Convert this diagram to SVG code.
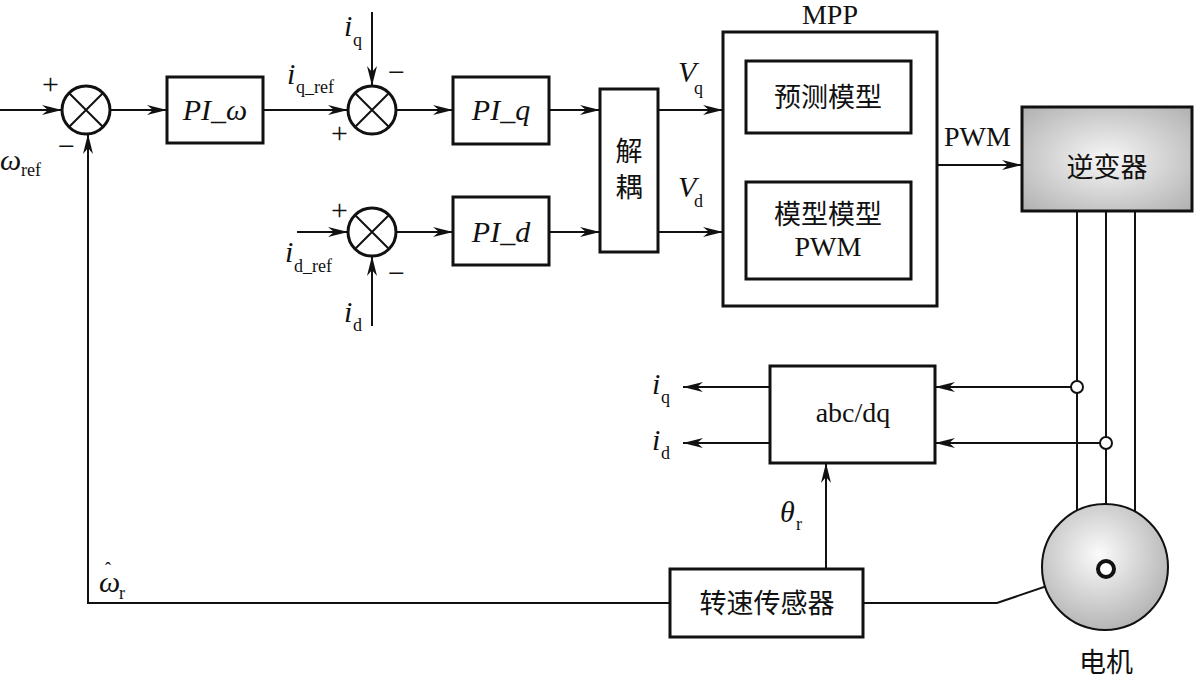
<svg xmlns="http://www.w3.org/2000/svg" width="1194" height="678" viewBox="0 0 1194 678">
<style>
.box{fill:#fff;stroke:#111;stroke-width:3}
.ln{fill:none;stroke:#111;stroke-width:2}
.t{font-family:"Liberation Serif",serif;font-size:28px;fill:#111}
.it{font-family:"Liberation Serif",serif;font-style:italic;font-size:30px;fill:#111}
.sub{font-family:"Liberation Serif",serif;font-size:18px;fill:#111}
.cn{font-family:"Noto Sans CJK SC",sans-serif;font-size:27px;fill:#111}
.sg{font-family:"Liberation Serif",serif;font-size:30px;fill:#111}
</style>
<defs>
<marker id="ar" viewBox="0 0 20 10" refX="20" refY="5" markerWidth="20" markerHeight="10" orient="auto" markerUnits="userSpaceOnUse">
<path d="M0,0 L20,5 L0,10 L6,5 Z" fill="#111"/>
</marker>
<radialGradient id="gInv" cx="0.5" cy="0.5" r="0.7">
<stop offset="0" stop-color="#f7f7f7"/><stop offset="1" stop-color="#b0b0b0"/>
</radialGradient>
<radialGradient id="gMot" cx="0.45" cy="0.4" r="0.65">
<stop offset="0" stop-color="#fbfbfb"/><stop offset="1" stop-color="#b0b0b0"/>
</radialGradient>
</defs>

<g id="connectors">
<line class="ln" x1="0" y1="110" x2="62" y2="110" marker-end="url(#ar)"/>
<line class="ln" x1="110" y1="110" x2="167" y2="110" marker-end="url(#ar)"/>
<line class="ln" x1="263" y1="110" x2="348" y2="110" marker-end="url(#ar)"/>
<line class="ln" x1="372" y1="12" x2="372" y2="86" marker-end="url(#ar)"/>
<line class="ln" x1="396" y1="110" x2="453" y2="110" marker-end="url(#ar)"/>
<line class="ln" x1="549" y1="110" x2="600" y2="110" marker-end="url(#ar)"/>
<line class="ln" x1="297" y1="232" x2="348" y2="232" marker-end="url(#ar)"/>
<line class="ln" x1="372" y1="326" x2="372" y2="256" marker-end="url(#ar)"/>
<line class="ln" x1="396" y1="232" x2="453" y2="232" marker-end="url(#ar)"/>
<line class="ln" x1="549" y1="232" x2="600" y2="232" marker-end="url(#ar)"/>
<line class="ln" x1="658" y1="110" x2="723" y2="110" marker-end="url(#ar)"/>
<line class="ln" x1="658" y1="232" x2="723" y2="232" marker-end="url(#ar)"/>
<line class="ln" x1="828" y1="133" x2="828" y2="182" marker-end="url(#ar)"/>
<line class="ln" x1="937" y1="165" x2="1022" y2="165" marker-end="url(#ar)"/>
<line class="ln" x1="1077" y1="211" x2="1077" y2="512"/>
<line class="ln" x1="1106" y1="211" x2="1106" y2="504"/>
<line class="ln" x1="1135" y1="211" x2="1135" y2="512"/>
<line class="ln" x1="1071" y1="387" x2="935" y2="387" marker-end="url(#ar)"/>
<line class="ln" x1="1100" y1="443" x2="935" y2="443" marker-end="url(#ar)"/>
<line class="ln" x1="770" y1="387" x2="683" y2="387" marker-end="url(#ar)"/>
<line class="ln" x1="770" y1="443" x2="683" y2="443" marker-end="url(#ar)"/>
<line class="ln" x1="826" y1="569" x2="826" y2="463" marker-end="url(#ar)"/>
<polyline class="ln" points="670,603 88,603 88,134" marker-end="url(#ar)"/>
<polyline class="ln" points="863,603 997,603 1094,570"/>
<circle cx="1077" cy="387" r="6" fill="#fff" stroke="#111" stroke-width="2"/>
<circle cx="1106" cy="443" r="6" fill="#fff" stroke="#111" stroke-width="2"/>
</g>

<g id="sum1">
<circle cx="86" cy="110" r="24" fill="#fff" stroke="#111" stroke-width="3"/>
<path d="M69,93 L103,127 M103,93 L69,127" class="ln"/>
<text class="sg" x="42" y="94">+</text>
<text class="sg" x="58" y="156">−</text>
<text class="it" x="0" y="170">ω</text><text class="sub" x="21" y="176">ref</text>
</g>

<g id="pi_w">
<rect class="box" x="167" y="77" width="96" height="66"/>
<text class="it" x="215" y="120" text-anchor="middle" font-size="28">PI_ω</text>
</g>

<g id="sum2">
<circle cx="372" cy="110" r="24" fill="#fff" stroke="#111" stroke-width="3"/>
<path d="M355,93 L389,127 M389,93 L355,127" class="ln"/>
<text class="it" x="344" y="36">i</text><text class="sub" x="353" y="46">q</text>
<text class="sg" x="388" y="82">−</text>
<text class="sg" x="331" y="143">+</text>
<text class="it" x="287" y="84">i</text><text class="sub" x="296" y="93">q_ref</text>
</g>

<g id="pi_q">
<rect class="box" x="453" y="77" width="96" height="67"/>
<text class="it" x="501" y="120" text-anchor="middle" font-size="28">PI_q</text>
</g>

<g id="sum3">
<circle cx="372" cy="232" r="24" fill="#fff" stroke="#111" stroke-width="3"/>
<path d="M355,215 L389,249 M389,215 L355,249" class="ln"/>
<text class="sg" x="331" y="220">+</text>
<text class="sg" x="388" y="283">−</text>
<text class="it" x="285" y="262">i</text><text class="sub" x="294" y="272">d_ref</text>
<text class="it" x="344" y="322">i</text><text class="sub" x="353" y="331">d</text>
</g>

<g id="pi_d">
<rect class="box" x="453" y="197" width="96" height="68"/>
<text class="it" x="501" y="242" text-anchor="middle" font-size="28">PI_d</text>
</g>

<g id="decouple">
<rect class="box" x="600" y="89" width="58" height="163"/>
<text class="cn" x="629" y="161" text-anchor="middle" font-size="26">解</text>
<text class="cn" x="629" y="197" text-anchor="middle" font-size="26">耦</text>
</g>

<g id="vlabels">
<text class="it" x="678" y="82">V</text><text class="sub" x="694" y="94">q</text>
<text class="it" x="678" y="197">V</text><text class="sub" x="694" y="207">d</text>
</g>

<g id="mpp">
<rect class="box" x="723" y="32" width="214" height="274"/>
<text class="t" x="830" y="24" text-anchor="middle" font-size="26">MPP</text>
</g>

<g id="predict">
<rect class="box" x="746" y="61" width="165" height="72"/>
<text class="cn" x="828" y="107" text-anchor="middle">预测模型</text>
</g>

<g id="modelpwm">
<rect class="box" x="746" y="182" width="165" height="97"/>
<text class="cn" x="828" y="224" text-anchor="middle">模型模型</text>
<text class="t" x="828" y="256" text-anchor="middle">PWM</text>
</g>

<g id="pwmlabel">
<text class="t" x="944" y="146">PWM</text>
</g>

<g id="inverter">
<rect x="1022" y="107" width="170" height="104" fill="url(#gInv)" stroke="#111" stroke-width="3"/>
<text class="cn" x="1107" y="177" text-anchor="middle">逆变器</text>
</g>

<g id="abcdq">
<rect class="box" x="770" y="366" width="165" height="97"/>
<text class="t" x="853" y="422" text-anchor="middle">abc/dq</text>
<text class="it" x="652" y="394">i</text><text class="sub" x="661" y="403">q</text>
<text class="it" x="652" y="450">i</text><text class="sub" x="661" y="459">d</text>
<text class="it" x="780" y="522">θ</text><text class="sub" x="796" y="530">r</text>
</g>

<g id="sensor">
<rect class="box" x="670" y="569" width="193" height="68"/>
<text class="cn" x="767" y="613" text-anchor="middle">转速传感器</text>
<text class="it" x="99" y="592">ω<tspan x="105" y="575" font-size="18" font-style="normal">ˆ</tspan></text><text class="sub" x="119" y="599">r</text>
</g>

<g id="motor">
<circle cx="1105" cy="567" r="63" fill="url(#gMot)" stroke="#111" stroke-width="2"/>
<circle cx="1106" cy="569" r="8" fill="#fff" stroke="#111" stroke-width="4"/>
<text class="cn" x="1106" y="672" text-anchor="middle">电机</text>
</g>
</svg>
